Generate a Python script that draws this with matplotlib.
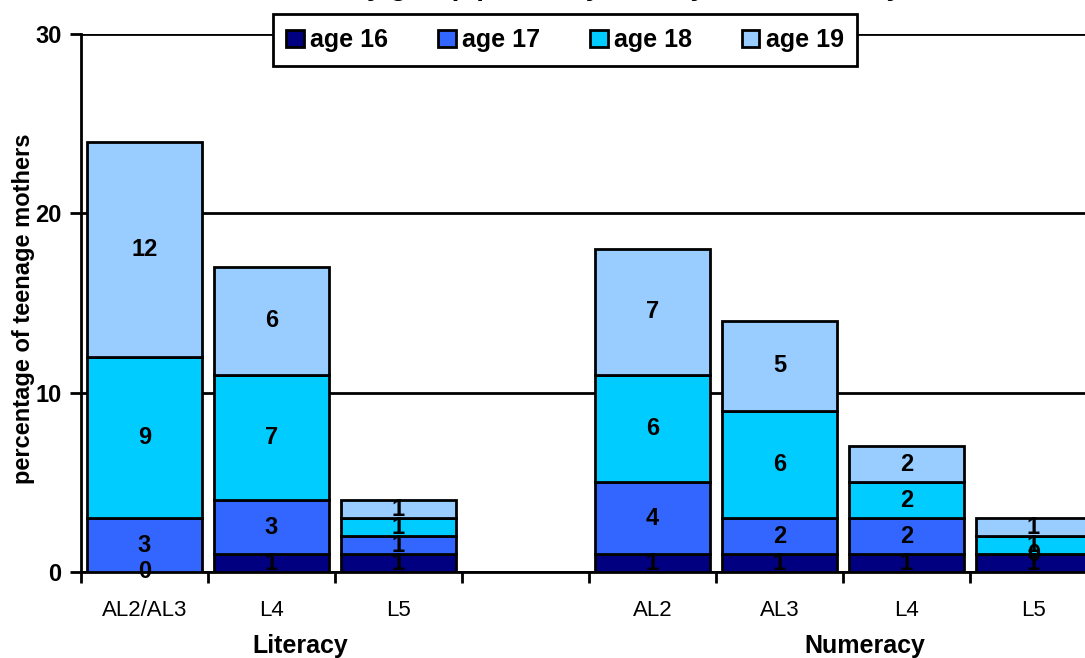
import numpy as np
import matplotlib
matplotlib.use("Agg")
import matplotlib.pyplot as plt

matplotlib.rcParams.update({
    'font.family': ['Liberation Sans', 'DejaVu Sans'],
    'font.weight': 'bold',
})

# Levels for each skill area; an empty slot separates the two groups
categories = ['AL2/AL3', 'L4', 'L5', '', 'AL2', 'AL3', 'L4', 'L5']
ages = ['age 16', 'age 17', 'age 18', 'age 19']

age16 = [0, 1, 1, np.nan, 1, 1, 1, 1]
age17 = [3, 3, 1, np.nan, 4, 2, 2, 0]
age18 = [9, 7, 1, np.nan, 6, 6, 2, 1]
age19 = [12, 6, 1, np.nan, 7, 5, 2, 1]

colors = ['#000080', '#3366FF', '#00CCFF', '#99CCFF']

fig = plt.figure(figsize=(10.85, 6.58), dpi=100)
# the plot area runs a little past the right edge of the image
ax = fig.add_axes([81 / 1085, 86 / 658, 1016 / 1085, 538 / 658])

x = np.arange(len(categories))
bottom = np.zeros(len(categories))
for name, vals, col in zip(ages, [age16, age17, age18, age19], colors):
    arr = np.array(vals, dtype=float)
    mask = ~np.isnan(arr)
    v = np.nan_to_num(arr)
    ax.bar(x[mask], v[mask], bottom=bottom[mask], width=0.9, color=col,
           edgecolor='black', linewidth=2, label=name, zorder=3)
    for xi, vi, bi in zip(x[mask], v[mask], bottom[mask]):
        ax.text(xi, bi + vi / 2, f'{int(vi)}', ha='center', va='center',
                fontsize=17, fontweight='bold', zorder=5)
    bottom = bottom + v

ax.set_xlim(-0.5, len(categories) - 0.5)
ax.set_ylim(0, 30)
ax.set_yticks([0, 10, 20, 30])
ax.tick_params(axis='y', labelsize=17, length=8, width=2, direction='out', pad=6)
ax.yaxis.grid(True, color='black', linewidth=2, zorder=0)
ax.set_axisbelow(True)

# ticks between categories, labels at the centres
ax.set_xticks(np.arange(-0.5, len(categories)), labels=[])
ax.set_xticks(x, labels=categories, minor=True)
ax.tick_params(axis='x', which='major', length=8, width=2, direction='out')
ax.tick_params(axis='x', which='minor', length=0, pad=20)
for lab in ax.get_xticklabels(minor=True):
    lab.set_fontweight('normal')
    lab.set_fontsize(16)

for side in ['top', 'right']:
    ax.spines[side].set_visible(False)
for side in ['left', 'bottom']:
    ax.spines[side].set_linewidth(2)

ax.set_ylabel('percentage of teenage mothers', fontsize=17, fontweight='bold')
ax.yaxis.set_label_coords(-0.045, 0.49)

fig.text(300 / 1085, 12 / 658, 'Literacy', ha='center', va='center',
         fontsize=18, fontweight='bold')
fig.text(865 / 1085, 12 / 658, 'Numeracy', ha='center', va='center',
         fontsize=18, fontweight='bold')

fig.text(600 / 1085, 1.0 + 5 / 658, 'Ability group profile by literacy and numeracy',
         ha='center', va='baseline', fontsize=20, fontweight='bold')

leg = fig.legend(loc='center', bbox_to_anchor=(565 / 1085, 1 - 40 / 658), ncol=4,
                 fontsize=18, frameon=True, fancybox=False, edgecolor='black',
                 framealpha=1, handlelength=0.7, handleheight=0.7, handletextpad=0.25,
                 columnspacing=2.0, borderpad=0.55)
leg.get_frame().set_linewidth(2)
for t in leg.get_texts():
    t.set_fontweight('bold')

fig.savefig('out.png', dpi=100)
